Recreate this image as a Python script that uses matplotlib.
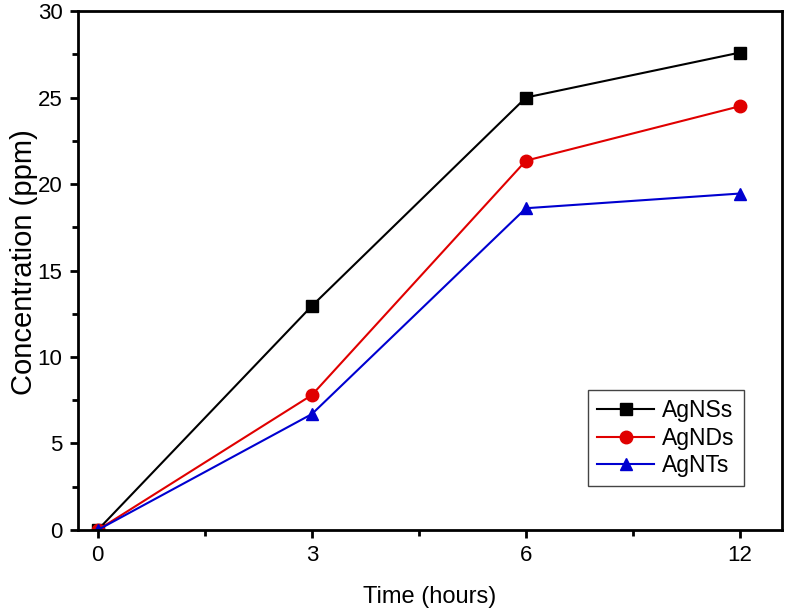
import matplotlib
matplotlib.use("Agg")
import matplotlib.pyplot as plt
from matplotlib.ticker import MultipleLocator

plt.rcParams["font.family"] = ["Liberation Sans", "DejaVu Sans"]

# Data
time_labels = ["0", "3", "6", "12"]
agnss = [0.0, 12.95, 25.0, 27.6]
agnds = [0.0, 7.8, 21.35, 24.5]
agnts = [0.0, 6.7, 18.6, 19.45]

x = list(range(len(time_labels)))

fig = plt.figure(figsize=(7.86, 6.12), dpi=100)
ax = fig.add_axes([0.099, 0.134, 0.896, 0.848])

ax.plot(x, agnss, "-s", color="black", lw=1.5, markersize=8, label="AgNSs")
ax.plot(x, agnds, "-o", color="#e00000", lw=1.5, markersize=9, label="AgNDs")
ax.plot(x, agnts, "-^", color="#0000d0", lw=1.5, markersize=9, label="AgNTs")

ax.set_xlim(-0.093, 3.196)
ax.set_ylim(0, 30)
ax.set_xticks(x)
ax.set_xticklabels(time_labels)
ax.xaxis.set_minor_locator(MultipleLocator(0.5))
ax.yaxis.set_major_locator(MultipleLocator(5))
ax.yaxis.set_minor_locator(MultipleLocator(2.5))

ax.tick_params(which="both", direction="out", top=False, right=False, labelsize=16, width=2)
ax.tick_params(which="major", length=6, pad=5)
ax.tick_params(which="minor", length=4)
for s in ax.spines.values():
    s.set_linewidth(2)

ax.set_xlabel("Time (hours)", fontsize=17, labelpad=14)
ax.set_ylabel("Concentration (ppm)", fontsize=21)
ax.yaxis.set_label_coords(-0.056, 0.516)

leg = ax.legend(loc="lower right", bbox_to_anchor=(0.962, 0.062), fontsize=16.5, fancybox=False,
                edgecolor="#444444", framealpha=1, handlelength=2.5, borderpad=0.4,
                labelspacing=0.2, handletextpad=0.35)
leg.get_frame().set_linewidth(1)

plt.savefig("out.png", dpi=100)
plt.close()
